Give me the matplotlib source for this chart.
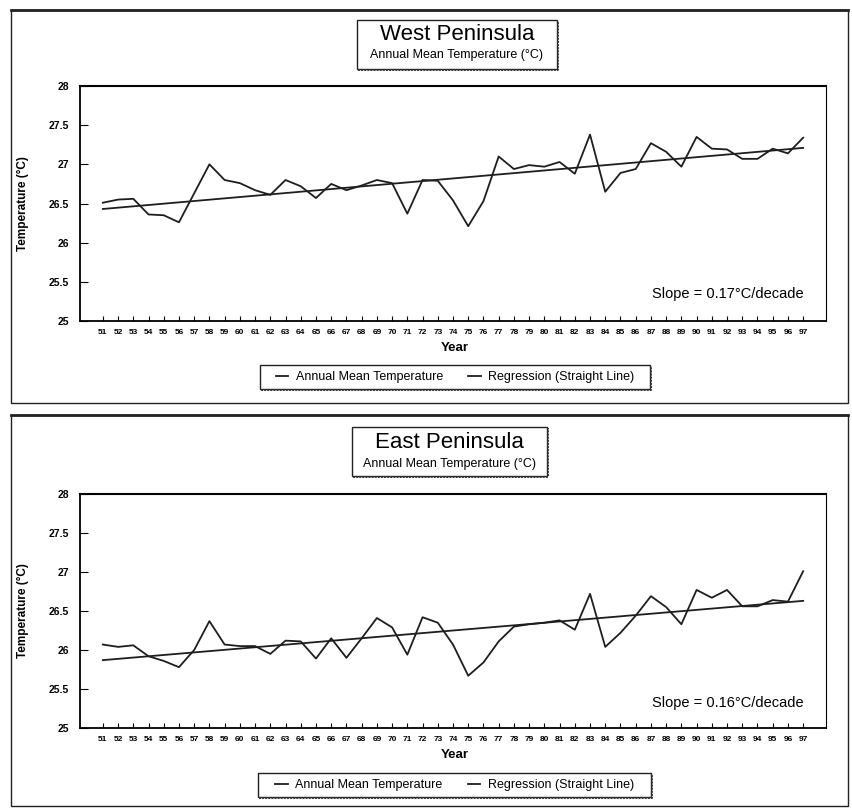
import matplotlib
matplotlib.use("Agg")
import matplotlib.pyplot as plt
from matplotlib.patches import Rectangle
from matplotlib.lines import Line2D
import numpy as np

plt.rcParams['font.family'] = ['Liberation Sans', 'DejaVu Sans']

years = list(range(51, 98))
year_labels = [str(y) for y in years]

west_temp = [26.51, 26.55, 26.56, 26.36, 26.35, 26.26, 26.63, 27.00, 26.80, 26.76,
             26.67, 26.61, 26.80, 26.72, 26.57, 26.75, 26.67, 26.73, 26.80, 26.76,
             26.37, 26.80, 26.79, 26.54, 26.21, 26.53, 27.10, 26.94, 26.99, 26.97,
             27.03, 26.88, 27.38, 26.65, 26.89, 26.94, 27.27, 27.16, 26.97, 27.35,
             27.20, 27.19, 27.07, 27.07, 27.20, 27.14, 27.34]
west_reg = [26.43, 27.21]

east_temp = [26.07, 26.04, 26.06, 25.92, 25.86, 25.78, 26.00, 26.37, 26.07, 26.05,
             26.05, 25.95, 26.12, 26.11, 25.89, 26.15, 25.90, 26.15, 26.41, 26.29,
             25.94, 26.42, 26.35, 26.07, 25.67, 25.84, 26.11, 26.30, 26.33, 26.35,
             26.38, 26.26, 26.72, 26.04, 26.22, 26.44, 26.69, 26.55, 26.33, 26.77,
             26.67, 26.77, 26.56, 26.56, 26.64, 26.62, 27.01]
east_reg = [25.87, 26.63]

y_ticks = [25, 25.5, 26, 26.5, 27, 27.5, 28]
y_tick_labels = ['25', '25.5', '26', '26.5', '27', '27.5', '28']

titles = ['West Peninsula', 'East Peninsula']
subtitle = 'Annual Mean Temperature (\u00b0C)'
slopes = ['Slope = 0.17\u00b0C/decade', 'Slope = 0.16\u00b0C/decade']
legend_labels = ['Annual Mean Temperature', 'Regression (Straight Line)']

W, H = 852, 809
fig = plt.figure(figsize=(W / 100, H / 100), dpi=100)


def fx(x):
    return x / W


def fy(y):
    return 1 - y / H


# panel layouts in pixels
panels = [
    dict(frame=(11, 10, 848, 403), ax=(80, 86, 826, 321), tbox=(357, 20, 557, 69),
         t1=34, t2=55, year=348, leg=(260, 365, 650, 389), slope_y=25.35),
    dict(frame=(11, 415, 848, 806), ax=(80, 494, 826, 728), tbox=(352, 427, 547, 476),
         t1=443, t2=464, year=755, leg=(258, 773, 651, 797), slope_y=25.32),
]
series = [(west_temp, west_reg), (east_temp, east_reg)]

for i, p in enumerate(panels):
    temp, reg = series[i]
    x0, y0, x1, y1 = p['frame']
    fig.add_artist(Rectangle((fx(x0), fy(y1)), fx(x1) - fx(x0), fy(y0) - fy(y1),
                             transform=fig.transFigure, fill=False, ec='#222222', lw=1.0))
    fig.add_artist(Line2D([fx(x0), fx(x1)], [fy(y0), fy(y0)], transform=fig.transFigure,
                          color='#222222', lw=2.0))

    a0, b0, a1, b1 = p['ax']
    ax = fig.add_axes([fx(a0), fy(b1), fx(a1) - fx(a0), fy(b0) - fy(b1)])
    ax.plot(years, temp, color='#1e1e1e', lw=1.3, label=legend_labels[0])
    ax.plot([years[0], years[-1]], reg, color='#1e1e1e', lw=1.3, label=legend_labels[1])
    ax.set_xlim(49.5, 98.5)
    ax.set_ylim(25, 28)
    ax.set_yticks(y_ticks)
    ax.set_yticklabels(y_tick_labels, fontsize=7.5, fontweight='bold')
    ax.set_xticks(years)
    ax.set_xticklabels(year_labels, fontsize=6, fontweight='bold')
    ax.tick_params(axis='y', direction='in', length=6, width=0.8, pad=8)
    ax.tick_params(axis='x', direction='in', length=3.5, width=0.8, pad=6)
    for s in ['left', 'bottom']:
        ax.spines[s].set_linewidth(1.3)
    ax.spines['top'].set_linewidth(1.5)
    ax.spines['right'].set_linewidth(0.8)
    ax.set_ylabel('Temperature (\u00b0C)', fontsize=8.5, fontweight='bold')
    ax.yaxis.set_label_coords((29 - a0) / (a1 - a0), 0.5)
    ax.text(97, p['slope_y'], slopes[i], ha='right', va='center', fontsize=10.5)

    # Year label
    fig.text(fx(455), fy(p['year']), 'Year', ha='center', va='center', fontsize=9.5,
             fontweight='bold')

    # title box
    tx0, ty0, tx1, ty1 = p['tbox']
    fig.add_artist(Rectangle((fx(tx0), fy(ty1)), fx(tx1) - fx(tx0), fy(ty0) - fy(ty1),
                             transform=fig.transFigure, fill=True, fc='white', ec='#222222', lw=1.0))
    fig.add_artist(Line2D([fx(tx0 + 1), fx(tx1 + 1), fx(tx1 + 1)],
                          [fy(ty1 + 1), fy(ty1 + 1), fy(ty0 + 1)], transform=fig.transFigure,
                          color='#333333', lw=1.4, ls=(0, (1, 0.6))))
    cx = (tx0 + tx1) / 2
    fig.text(fx(cx), fy(p['t1']), titles[i], ha='center', va='center', fontsize=16)
    fig.text(fx(cx), fy(p['t2']), subtitle, ha='center', va='center', fontsize=9)

    # legend box
    lx0, ly0, lx1, ly1 = p['leg']
    fig.add_artist(Rectangle((fx(lx0), fy(ly1)), fx(lx1) - fx(lx0), fy(ly0) - fy(ly1),
                             transform=fig.transFigure, fill=True, fc='white', ec='#222222', lw=1.0))
    fig.add_artist(Line2D([fx(lx0 + 1), fx(lx1 + 1), fx(lx1 + 1)],
                          [fy(ly1 + 1), fy(ly1 + 1), fy(ly0 + 1)], transform=fig.transFigure,
                          color='#333333', lw=1.4, ls=(0, (1, 0.6))))
    handles, labels = ax.get_legend_handles_labels()
    lcx = (lx0 + lx1) / 2
    lcy = (ly0 + ly1) / 2
    leg = fig.legend(handles, labels, loc='center', bbox_to_anchor=(fx(lcx), fy(lcy)),
                     ncol=2, frameon=False, fontsize=9, handlelength=1.0,
                     handletextpad=0.6, columnspacing=2.0, borderpad=0.2)

fig.savefig('out.png', dpi=100)
